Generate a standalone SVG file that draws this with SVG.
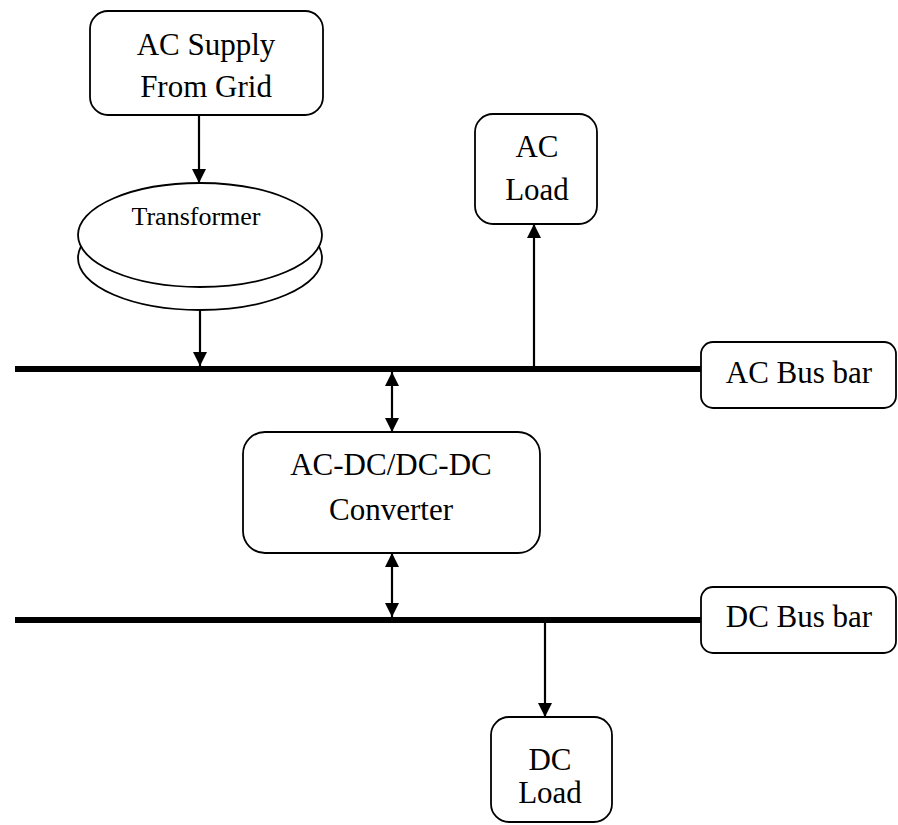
<svg xmlns="http://www.w3.org/2000/svg" width="898" height="825" viewBox="0 0 898 825">
  <style>
    .box { fill: #fff; stroke: #000; stroke-width: 1.8; }
    .lbl { font-family: "Liberation Serif", "Times New Roman", serif; font-size: 31px; fill: #000; text-anchor: middle; }
    .small { font-size: 26px; }
    .wire { stroke: #000; stroke-width: 2.2; fill: none; }
    .bus { stroke: #000; stroke-width: 6; fill: none; }
  </style>
  <defs>
    <marker id="arrow" viewBox="0 0 14 14" refX="14" refY="7" markerWidth="14" markerHeight="14" markerUnits="userSpaceOnUse" orient="auto-start-reverse">
      <path d="M0,0 L14,7 L0,14 Z" fill="#000"/>
    </marker>
  </defs>
  <rect width="898" height="825" fill="#fff"/>

  <!-- bus bars -->
  <g id="buses">
    <line class="bus" x1="15" y1="369" x2="701" y2="369"/>
    <line class="bus" x1="15" y1="620" x2="701" y2="620"/>
  </g>

  <!-- connectors -->
  <g id="connectors">
    <line class="wire" x1="199" y1="115" x2="199" y2="183" marker-end="url(#arrow)"/>
    <line class="wire" x1="200" y1="310" x2="200" y2="366" marker-end="url(#arrow)"/>
    <line class="wire" x1="534" y1="366" x2="534" y2="224" marker-end="url(#arrow)"/>
    <line class="wire" x1="392" y1="372" x2="392" y2="432" marker-start="url(#arrow)" marker-end="url(#arrow)"/>
    <line class="wire" x1="392" y1="553" x2="392" y2="617" marker-start="url(#arrow)" marker-end="url(#arrow)"/>
    <line class="wire" x1="545" y1="623" x2="545" y2="717" marker-end="url(#arrow)"/>
  </g>

  <g id="ac-supply">
    <rect class="box" x="90" y="11" width="233" height="104" rx="18"/>
    <text class="lbl" x="206" y="55">AC Supply</text>
    <text class="lbl" x="206" y="97">From Grid</text>
  </g>

  <g id="transformer">
    <ellipse class="box" cx="200" cy="258" rx="122" ry="52"/>
    <ellipse class="box" cx="200" cy="235" rx="122" ry="52"/>
    <text class="lbl small" x="196" y="225">Transformer</text>
  </g>

  <g id="ac-load">
    <rect class="box" x="475" y="114" width="122" height="110" rx="18"/>
    <text class="lbl" x="537" y="157">AC</text>
    <text class="lbl" x="537" y="200">Load</text>
  </g>

  <g id="ac-bus-bar">
    <rect class="box" x="701" y="342" width="195" height="66" rx="12"/>
    <text class="lbl" x="799" y="383">AC Bus bar</text>
  </g>

  <g id="converter">
    <rect class="box" x="243" y="432" width="297" height="121" rx="22"/>
    <text class="lbl" x="391" y="475">AC-DC/DC-DC</text>
    <text class="lbl" x="391" y="520">Converter</text>
  </g>

  <g id="dc-bus-bar">
    <rect class="box" x="701" y="587" width="195" height="66" rx="12"/>
    <text class="lbl" x="799" y="627">DC Bus bar</text>
  </g>

  <g id="dc-load">
    <rect class="box" x="491" y="717" width="121" height="105" rx="18"/>
    <text class="lbl" x="550" y="770">DC</text>
    <text class="lbl" x="550" y="803">Load</text>
  </g>
</svg>
